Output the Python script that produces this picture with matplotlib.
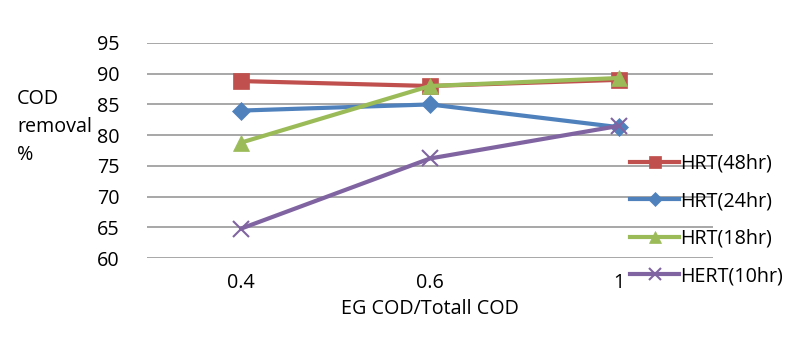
import matplotlib
matplotlib.use("Agg")
import matplotlib.pyplot as plt

categories = ["0.4", "0.6", "1"]
hrt48 = [88.8, 88.0, 89.0]
hrt24 = [84.0, 85.0, 81.3]
hrt18 = [78.8, 88.0, 89.3]
hert10 = [64.8, 76.2, 81.5]
series_names = ["HRT(48hr)", "HRT(24hr)", "HRT(18hr)", "HERT(10hr)"]
yticks = [60, 65, 70, 75, 80, 85, 90, 95]

plt.rcParams['font.family'] = ['Open Sans', 'DejaVu Sans']
FS = 14.2

fig = plt.figure(figsize=(8, 3.47), dpi=100)
ax = fig.add_axes([147/800, 1-258/347, (713-147)/800, (258-43)/347])
x = list(range(len(categories)))

styles = [
    (hrt48, "#C0504D", "s", 11),
    (hrt24, "#4F81BD", "D", 9),
    (hrt18, "#9BBB59", "^", 12),
    (hert10, "#8064A2", "x", 11),
]
handles = []
for (vals, col, mk, ms), name in zip(styles, series_names):
    h, = ax.plot(x, vals, color=col, lw=3, marker=mk, markersize=ms,
                 markeredgewidth=1.5 if mk == "x" else 0.5, markeredgecolor=col,
                 label=name, zorder=3)
    handles.append(h)

ax.set_xlim(-0.5, 2.5)
ax.set_ylim(60, 95)
ax.set_yticks(yticks)
ax.set_xticks(x)
ax.set_xticklabels(categories)
ax.yaxis.grid(True, color="#A0A0A0", lw=1.3)
ax.set_axisbelow(True)
for s in ax.spines.values():
    s.set_visible(False)
ax.tick_params(axis='both', length=0, labelsize=FS)
ax.tick_params(axis='y', pad=20)
ax.tick_params(axis='x', pad=11)
ax.set_xlabel("EG COD/Totall COD", fontsize=FS)
ax.xaxis.label.set_va('center')
ax.xaxis.set_label_coords(0.5, (258-309)/215)

fig.text(17/800, 1-127/347, "COD\nremoval\n%", fontsize=FS, ha='left', va='center',
         linespacing=1.5)

leg = fig.legend(handles=handles, loc='center left', bbox_to_anchor=(630/800, 1-220/347),
                 frameon=False, fontsize=FS, handlelength=2.5, handletextpad=0.05,
                 labelspacing=0.88, markerscale=0.75, borderaxespad=0, borderpad=0)

fig.savefig("out.png", dpi=100)
